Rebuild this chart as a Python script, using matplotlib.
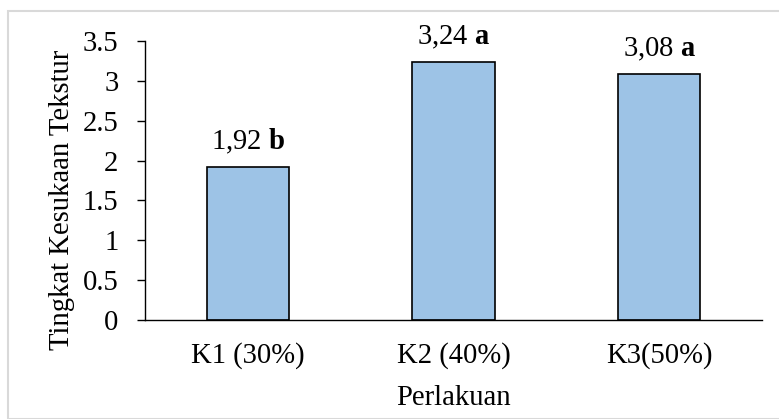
import matplotlib.pyplot as plt
from matplotlib.patches import Rectangle

plt.rcParams['font.family'] = ['Liberation Serif', 'DejaVu Serif']
plt.rcParams['mathtext.fontset'] = 'custom'
plt.rcParams['mathtext.rm'] = 'Liberation Serif'
plt.rcParams['mathtext.bf'] = 'Liberation Serif:bold'

# Data
categories = ['K1 (30%)', 'K2 (40%)', 'K3(50%)']
scores = [1.92, 3.24, 3.08]
value_text = ['1,92', '3,24', '3,08']
groups = ['b', 'a', 'a']

W, H = 779, 419
FS = 20.6
fig = plt.figure(figsize=(W / 100, H / 100), dpi=100)

# Chart area outline
fig.patches.append(Rectangle((8 / W, 0), 1, 1 - 11 / H, transform=fig.transFigure,
                             fill=False, edgecolor='#d9d9d9', linewidth=1.5))

ax = fig.add_axes([145 / W, 1 - 320 / H, (762 - 145) / W, (320 - 41) / H])
x = range(len(categories))
ax.bar(x, scores, width=0.4, color='#9dc3e6', edgecolor='black', linewidth=1.2)

for xi, v, t, g in zip(x, scores, value_text, groups):
    ax.annotate(t + r' $\mathbf{' + g + '}$', (xi, v), xytext=(0, 8),
                textcoords='offset points', ha='center', va='bottom', fontsize=FS)

ax.set_xlim(-0.5, 2.5)
ax.set_ylim(0, 3.5)
ax.set_yticks([0, 0.5, 1, 1.5, 2, 2.5, 3, 3.5])
ax.set_yticklabels(['0', '0.5', '1', '1.5', '2', '2.5', '3', '3.5'])
ax.set_xticks(list(x))
ax.set_xticklabels(categories)
ax.tick_params(axis='y', labelsize=FS, length=6, width=1, pad=13)
ax.tick_params(axis='x', labelsize=FS, length=0, pad=16)
for side in ['top', 'right']:
    ax.spines[side].set_visible(False)
for side in ['left', 'bottom']:
    ax.spines[side].set_linewidth(1)

fig.text(453 / W, 1 - 398 / H, 'Perlakuan', ha='center', va='center', fontsize=FS)
fig.text(62 / W, 1 - 200 / H, 'Tingkat Kesukaan Tekstur', ha='center', va='center',
         rotation=90, fontsize=FS)

fig.savefig('out.png', dpi=100)
